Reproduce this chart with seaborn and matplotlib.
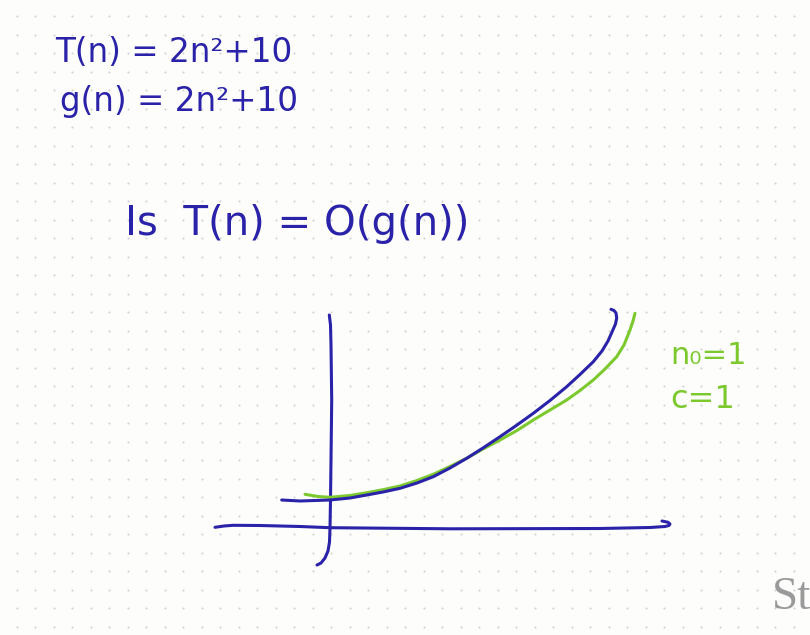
import numpy as np
import pandas as pd
import seaborn as sns
import matplotlib.pyplot as plt

# ink colours of the note
blue_ink = "#2a22a8"
green_ink = "#7cc92e"

# handwritten strokes (pixel coords, y grows downwards)
blue_x = [281.7, 300, 330, 350, 366.7, 383, 400, 417, 433.3, 450, 466.7, 483, 500, 517,
          533.3, 550, 566.7, 580, 593.3, 602, 608, 612, 615.5, 616.7, 616, 614, 611]
blue_y = [500, 501, 500, 498, 495, 492, 488.3, 483, 476.7, 468, 458.3, 448, 436.7, 425,
          413.3, 400.5, 386.7, 374.5, 361.7, 351, 341, 332, 324, 318, 313, 310.5, 309.3]

green_x = [305, 318, 330, 350, 366.7, 383, 400, 417, 433.3, 450, 466.7, 483, 500, 517,
           533.3, 550, 566.7, 580, 593.3, 605, 616.7, 624, 630, 633, 635]
green_y = [494.3, 496.5, 497.3, 495.5, 492.7, 489.7, 486, 480.5, 474.3, 466.5, 458.3, 449, 440, 430.5,
           420, 410, 400, 390.5, 380, 369, 356.7, 345, 330, 321, 313.3]

vaxis_x = [329.3, 330.5, 331, 331.7, 331, 330.5, 330, 329.5, 328, 325, 321, 317]
vaxis_y = [315, 325, 345, 400, 460, 500, 528, 542, 551, 558, 563, 565]

haxis_x = [215, 224, 233, 260, 300, 330, 450, 600, 650, 665, 669, 670, 668, 662]
haxis_y = [527.3, 526, 525.3, 525.5, 526.5, 527.7, 528.8, 528.5, 527.5, 526.5, 525.5, 524, 522.3, 521]

# written text
line1 = "T(n) = 2n²+10"
line2 = "g(n) = 2n²+10"
question = "Is  T(n) = O(g(n))"
note_n0 = "n₀=1"
note_c = "c=1"

sns.set_theme(style="white")
plt.rcParams['font.family'] = ['DejaVu Sans']

fig = plt.figure(figsize=(8.1, 6.35), dpi=100)
fig.patch.set_facecolor("#fdfdfc")
ax = fig.add_axes([0, 0, 1, 1])
ax.set_facecolor("#fdfdfc")

# dotted paper background
gx, gy = np.meshgrid(np.arange(16.7, 810, 18.5), np.arange(16, 635, 18.5))
dots = pd.DataFrame({"x": gx.ravel(), "y": gy.ravel()})
sns.scatterplot(data=dots, x="x", y="y", s=2.2, color="#d2d2d2", linewidth=0, ax=ax)

def stroke(xs, ys, color, lw=2.2):
    d = pd.DataFrame({"x": xs, "y": ys})
    sns.lineplot(data=d, x="x", y="y", sort=False, estimator=None, color=color,
                 linewidth=lw, ax=ax, solid_capstyle="round", solid_joinstyle="round")

stroke(vaxis_x, vaxis_y, blue_ink)
stroke(haxis_x, haxis_y, blue_ink)
stroke(green_x, green_y, green_ink)
stroke(blue_x, blue_y, blue_ink)

ax.text(55, 53, line1, color=blue_ink, fontsize=23.5, va="center", ha="left")
ax.text(60, 102, line2, color=blue_ink, fontsize=23.5, va="center", ha="left")
ax.text(125, 224, question, color=blue_ink, fontsize=29, va="center", ha="left")
ax.text(670, 356, note_n0, color=green_ink, fontsize=22, va="center", ha="left")
ax.text(670, 400, note_c, color=green_ink, fontsize=23, va="center", ha="left")
ax.text(772, 598, "St", color="#9a9a9a", fontsize=34, va="center", ha="left",
        family=["Liberation Serif", "DejaVu Serif"])

ax.set_xlim(0, 810)
ax.set_ylim(635, 0)
ax.set_axis_off()

fig.savefig("out.png", dpi=100, facecolor=fig.get_facecolor())
